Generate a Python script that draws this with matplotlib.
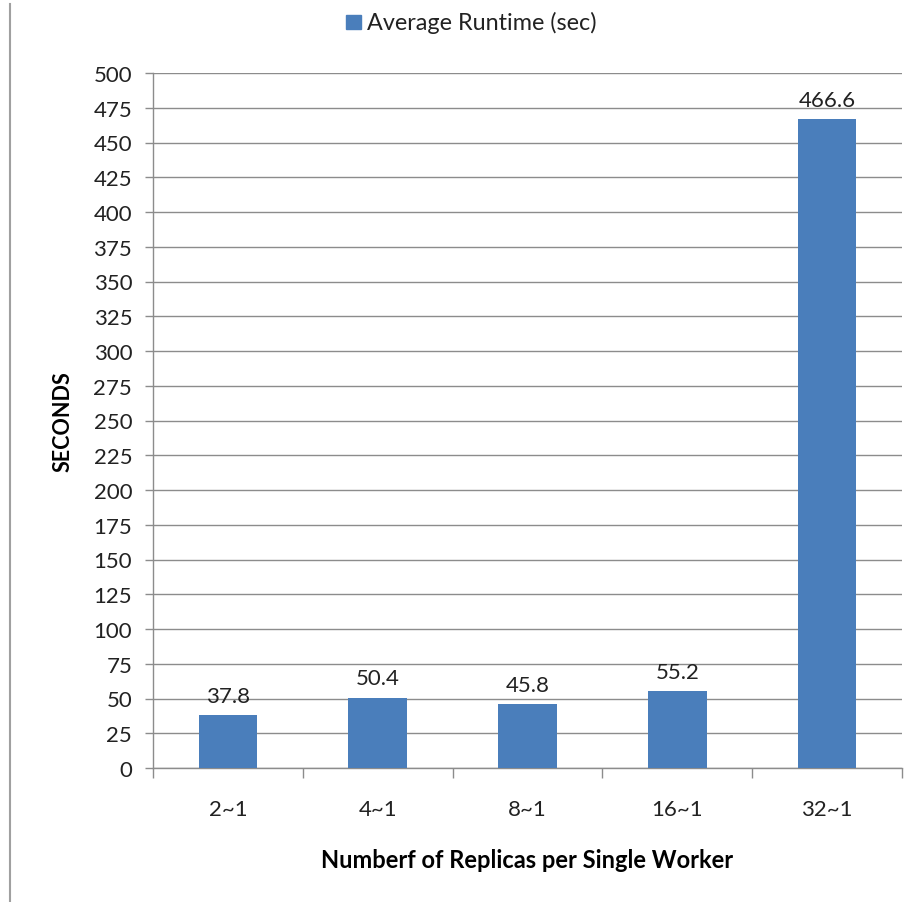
import matplotlib
matplotlib.use("Agg")
import matplotlib.pyplot as plt
from matplotlib.lines import Line2D
from matplotlib.patches import Rectangle

categories = ["2~1", "4~1", "8~1", "16~1", "32~1"]
runtime = [37.8, 50.4, 45.8, 55.2, 466.6]
value_labels = ["37.8", "50.4", "45.8", "55.2", "466.6"]
y_ticks = list(range(0, 501, 25))

bar_color = "#4a7ebb"
grid_color = "#8c8c8c"
text_color = "#222222"
font = ["Lato", "DejaVu Sans"]

fig = plt.figure(figsize=(9.17, 9.03), dpi=100)
ax = fig.add_axes([153 / 917, 1 - 769 / 903, (902 - 153) / 917, (769 - 74) / 903])

x = list(range(len(categories)))
ax.bar(x, runtime, width=0.39, color=bar_color, zorder=3)

ax.set_xlim(-0.5, len(categories) - 0.5)
ax.set_ylim(0, 500)
ax.set_yticks(y_ticks)
ax.set_yticklabels([str(t) for t in y_ticks], family=font, fontsize=16, color=text_color)
ax.set_xticks(x)
ax.set_xticklabels(categories, family=font, fontsize=16, color=text_color)
ax.tick_params(axis="x", length=0, pad=22)
ax.tick_params(axis="y", length=6, width=1, color=grid_color, pad=9)

# category boundary ticks on the x axis
ax.set_xticks([i - 0.5 for i in range(len(categories) + 1)], minor=True)
ax.tick_params(axis="x", which="minor", length=7, width=1, color=grid_color, direction="out")

ax.grid(axis="y", color=grid_color, linewidth=1, zorder=0)
for side in ("top", "right"):
    ax.spines[side].set_visible(False)
for side in ("left", "bottom"):
    ax.spines[side].set_color(grid_color)
    ax.spines[side].set_linewidth(1)

for xi, v, lab in zip(x, runtime, value_labels):
    ax.annotate(lab, (xi, v), xytext=(0, 7), textcoords="offset points",
                ha="center", va="bottom", family=font, fontsize=16, color=text_color)

ax.set_ylabel("SECONDS", family=font, fontsize=15.5, fontweight="bold", labelpad=14)
ax.set_xlabel("Numberf of Replicas per Single Worker", family=font, fontsize=17,
              fontweight="bold", labelpad=21)

# legend at the top of the figure
fig.patches.append(Rectangle((346 / 917, 1 - 30 / 903), 15 / 917, 14 / 903,
                             transform=fig.transFigure, color=bar_color))
fig.text(367 / 917, 1 - 23 / 903, "Average Runtime (sec)", family=font, fontsize=16.8,
         color=text_color, va="center", ha="left")

# frame line along the left edge
fig.add_artist(Line2D([10 / 917, 10 / 917], [0.0, 1 - 5 / 903], transform=fig.transFigure,
                      color="#a0a0a0", linewidth=1.5))

fig.savefig("out.png", dpi=100, facecolor="white")
